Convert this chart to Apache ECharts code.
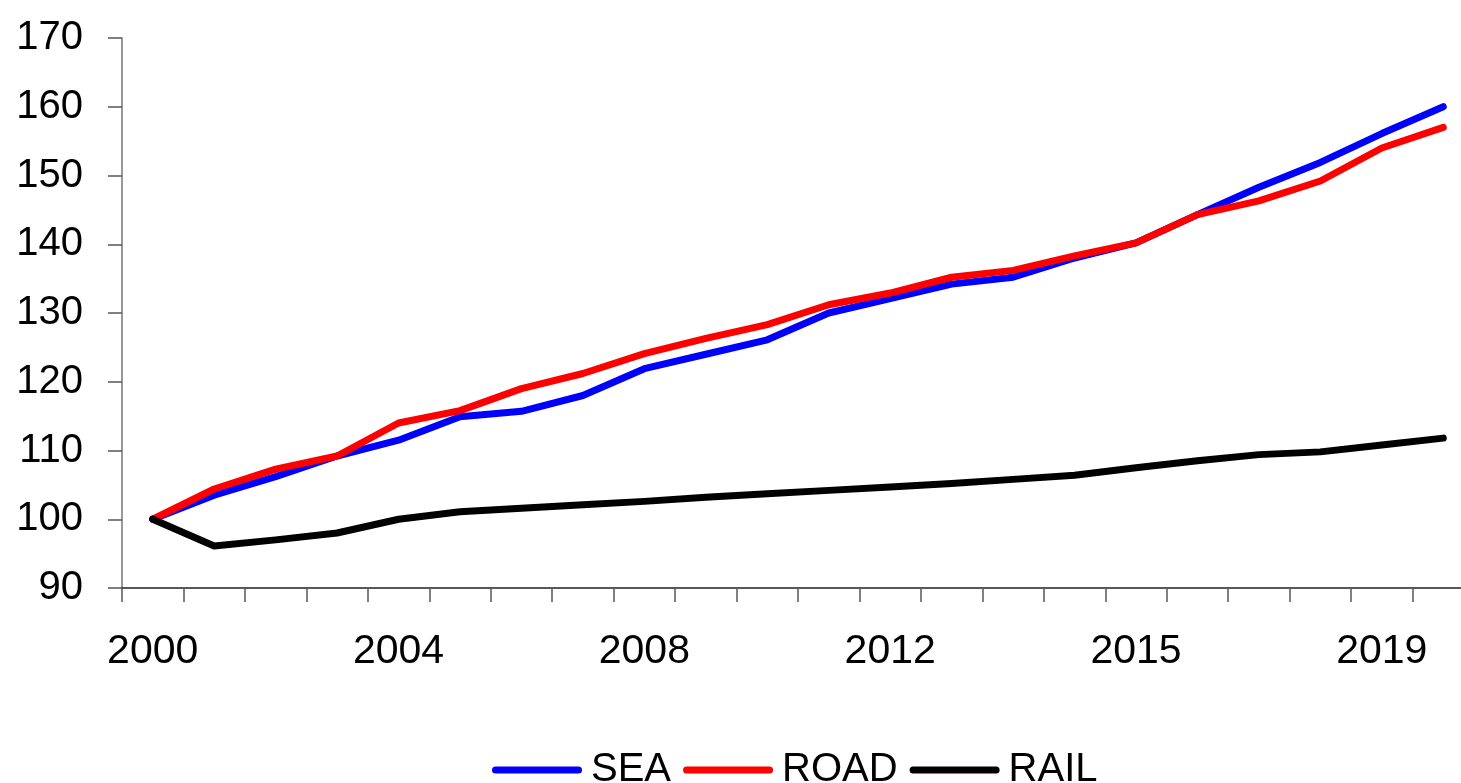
<!DOCTYPE html>
<html>
<head>
<meta charset="utf-8">
<script src="https://cdn.jsdelivr.net/npm/echarts@6/dist/echarts.min.js"></script>
<style>
  html, body { margin: 0; padding: 0; background: #fff; }
  #main { width: 1461px; height: 783px; }
</style>
</head>
<body>
<div id="main"></div>
<script>
// 22 periods, label shown every 4th one
const categories = ['2000', '2001', '2002', '2003', '2004', '2005', '2006', '2007', '2008', '2009', '2010',
  '2011', '2012', '2013', '2013', '2014', '2015', '2016', '2017', '2018', '2019', '2020'];

const sea = [100, 103.5, 106.2, 109.2, 111.5, 114.9, 115.7, 118, 121.9, 124, 126.1,
  130, 132.1, 134.2, 135.2, 138, 140.2, 144.3, 148.3, 151.9, 156.1, 160];
const road = [100, 104.4, 107.3, 109.2, 114, 115.8, 119, 121.2, 124.1, 126.3, 128.3,
  131.2, 132.9, 135.2, 136.2, 138.3, 140.2, 144.3, 146.3, 149.2, 154, 157];
const rail = [100, 96.1, 97, 98, 100, 101.1, 101.6, 102.1, 102.6, 103.2, 103.7,
  104.2, 104.7, 105.2, 105.8, 106.4, 107.5, 108.5, 109.4, 109.8, 110.8, 111.8];

const yMin = 90, yMax = 170, yStep = 10;

let myChart = echarts.init(document.getElementById('main'));

const font = 'Liberation Sans, Arial, sans-serif';

function lineSeries(name, data, color) {
  return {
    name: name,
    type: 'line',
    data: data,
    symbol: 'none',
    color: color,
    lineStyle: { color: color, width: 7, cap: 'round', join: 'round' }
  };
}

let option = {
  backgroundColor: '#fff',
  animation: false,
  grid: {
    left: 122,
    width: 1352,   // plot runs a little past the right edge, as in the original
    top: 38,
    bottom: 195,
    containLabel: false,
    outerBoundsMode: 'none'
  },
  legend: {
    data: ['SEA', 'ROAD', 'RAIL'],
    left: 487,
    top: 745,
    itemWidth: 90,
    itemHeight: 7,
    itemGap: 12,
    icon: 'path://M3.5,0 L86.5,0 A3.5,3.5 0 0 1 86.5,7 L3.5,7 A3.5,3.5 0 0 1 3.5,0 Z',
    textStyle: {
      fontFamily: font,
      fontSize: 40,
      color: '#000',
      padding: [0, 0, 10, 4]
    }
  },
  xAxis: {
    type: 'category',
    data: categories,
    boundaryGap: true,
    axisLine: { show: true, lineStyle: { color: '#222', width: 1.5 } },
    axisTick: { show: true, interval: 0, alignWithLabel: false, length: 14, lineStyle: { color: '#555', width: 1.5 } },
    axisLabel: {
      interval: 3,
      margin: 43,
      fontSize: 41,
      fontFamily: font,
      color: '#000'
    },
    splitLine: { show: false }
  },
  yAxis: {
    type: 'value',
    min: yMin,
    max: yMax,
    interval: yStep,
    axisLine: { show: true, lineStyle: { color: '#777', width: 1.5 } },
    axisTick: { show: true, length: 14, lineStyle: { color: '#555', width: 1.5 } },
    axisLabel: {
      margin: 39,
      fontSize: 40,
      fontFamily: font,
      color: '#000',
      padding: [0, 0, 10, 0]
    },
    splitLine: { show: false }
  },
  series: [
    lineSeries('SEA', sea, '#0000ff'),
    lineSeries('ROAD', road, '#ff0000'),
    lineSeries('RAIL', rail, '#000000')
  ]
};

myChart.setOption(option);
</script>
</body>
</html>
